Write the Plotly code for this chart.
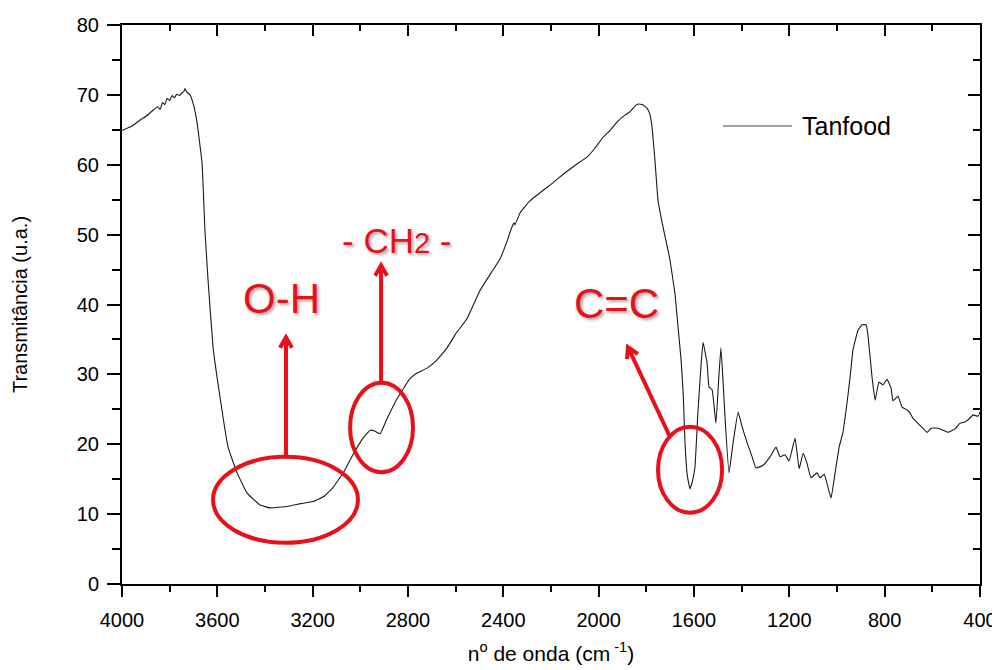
import math
import plotly.graph_objects as go

# --- data ---
wavenumber = [4000, 3960, 3924, 3900, 3870, 3850, 3840, 3830, 3820, 3811, 3800, 3790, 3780, 3770, 3760,
              3748, 3740, 3736, 3728, 3715, 3700, 3685, 3664, 3652, 3639, 3618, 3589, 3555, 3517, 3475,
              3421, 3379, 3308, 3250, 3199, 3150, 3115, 3070, 3031, 2990, 2959, 2940, 2917, 2890, 2846,
              2792, 2762, 2720, 2680, 2636, 2600, 2552, 2498, 2450, 2414, 2385, 2364, 2355, 2351, 2330,
              2290, 2246, 2200, 2150, 2100, 2049, 2015, 1982, 1950, 1923, 1890, 1868, 1845, 1835, 1815,
              1797, 1785, 1776, 1764, 1751, 1730, 1701, 1680, 1667, 1654, 1645, 1638, 1628, 1617, 1606,
              1596, 1583, 1570, 1562, 1545, 1537, 1524, 1508, 1497, 1487, 1478, 1470, 1453, 1436, 1415,
              1398, 1377, 1356, 1340, 1310, 1281, 1256, 1239, 1218, 1201, 1176, 1159, 1142, 1126, 1109,
              1084, 1071, 1054, 1042, 1025, 1008, 991, 975, 958, 945, 933, 912, 895, 878, 870,
              853, 840, 824, 807, 790, 773, 765, 744, 727, 706, 694, 681, 652, 622, 605,
              576, 555, 534, 505, 484, 463, 450, 429, 408, 400]
transmittance = [64.9, 65.5, 66.4, 66.9, 67.8, 68.3, 67.9, 68.9, 68.6, 69.5, 69.2, 69.9, 69.6, 70.1, 69.9,
                 70.3, 70.5, 70.9, 70.4, 70.0, 68.6, 66.0, 60.2, 50.6, 43.5, 33.9, 26.8, 19.6, 15.9, 13.0,
                 11.3, 10.9, 11.1, 11.5, 11.8, 12.6, 13.8, 16.0, 18.5, 20.8, 22.0, 21.9, 21.5, 23.5, 26.5,
                 29.4, 30.2, 30.9, 32.0, 33.8, 35.8, 38.0, 42.0, 44.6, 46.5, 49.0, 51.1, 51.7, 51.4, 53.1,
                 54.8, 56.0, 57.2, 58.6, 59.9, 61.1, 62.4, 63.9, 65.0, 66.1, 67.1, 67.6, 68.5, 68.7, 68.6,
                 68.1, 67.2, 65.4, 60.7, 54.9, 51.1, 46.4, 41.6, 36.8, 32.0, 27.0, 20.4, 15.5, 13.6, 14.8,
                 16.7, 24.9, 31.5, 34.6, 31.6, 28.2, 27.8, 23.0, 29.0, 33.8, 29.0, 23.9, 15.9, 20.2, 24.6,
                 22.5, 20.2, 18.2, 16.6, 17.0, 18.2, 19.6, 18.2, 18.5, 17.6, 20.9, 16.5, 18.7, 17.3, 15.2,
                 15.9, 15.2, 15.7, 14.4, 12.3, 15.9, 19.6, 21.7, 25.9, 29.6, 33.5, 36.3, 37.1, 37.1, 35.6,
                 29.6, 26.3, 28.9, 28.5, 29.3, 28.0, 26.2, 26.9, 25.3, 24.9, 24.5, 23.7, 22.7, 21.7, 22.3,
                 22.3, 22.0, 21.7, 22.2, 23.0, 23.2, 23.5, 24.2, 24.0, 24.6]

x_ticks = [4000, 3600, 3200, 2800, 2400, 2000, 1600, 1200, 800, 400]
y_ticks = [0, 10, 20, 30, 40, 50, 60, 70, 80]

series_name = "Tanfood"
x_title = "n<sup>o</sup> de onda (cm<sup> -1</sup>)"
y_title = "Transmitância (u.a.)"

# band annotations: label, label position, ellipse box, arrow (tail -> tip)
bands = [
    dict(label="O-H", lx=3329, ly=40.9, ex=(3618, 3010), ey=(5.9, 18.2), arrow=((3312, 18.2), (3312, 35.3)), size=42),
    dict(label="- CH<span style='font-size:29px'>2</span> -", lx=2850, ly=49.2, ex=(3043, 2779), ey=(16.0, 28.8),
         arrow=((2913, 28.8), (2913, 45.6)), size=35),
    dict(label="C=C", lx=1927, ly=40.2, ex=(1751, 1482), ey=(10.2, 22.5), arrow=((1700, 21.0), (1877, 33.9)), size=42),
]

RED = "#e8111a"
FONT = "Liberation Sans, Arial, sans-serif"
LINE_COLOR = "#1a1a1a"

# plot geometry (pixels); the page body adds an 8px offset, so the figure is 8px smaller
OFF = 8
W, H = 1000 - OFF, 670 - OFF
ML, MR, MT, MB = 122 - OFF, 20, 25 - OFF, 86
PW, PH = W - ML - MR, H - MT - MB
XR = [4000, 400]
YR = [0, 80]
REF_L, REF_B = 122, 584  # reference plot-area left / bottom in page pixels


def to_px(xv, yv):
    return (xv - XR[0]) / (XR[1] - XR[0]) * PW, (yv - YR[0]) / (YR[1] - YR[0]) * PH


def to_data(px, py):
    return XR[0] + px / PW * (XR[1] - XR[0]), YR[0] + py / PH * (YR[1] - YR[0])


fig = go.Figure()
fig.add_trace(go.Scatter(x=wavenumber, y=transmittance, mode="lines", name=series_name,
                         line=dict(color=LINE_COLOR, width=1.1, shape="spline", smoothing=0.3),
                         showlegend=False))
# empty trace for the mirrored (top/right) axes with inward ticks
fig.add_trace(go.Scatter(x=[], y=[], xaxis="x2", yaxis="y2", showlegend=False, hoverinfo="skip"))

axis_common = dict(showline=True, linecolor="black", linewidth=2, showgrid=False, zeroline=False,
                   automargin=False)

fig.update_layout(
    width=W, height=H,
    margin=dict(l=ML, r=MR, t=MT, b=MB),
    paper_bgcolor="white", plot_bgcolor="white",
    font=dict(family=FONT, color="black"),
    xaxis=dict(range=XR, tickvals=x_ticks, ticks="outside", ticklen=11, tickwidth=2, tickcolor="black",
               minor=dict(dtick=200, tick0=0, ticks="outside", ticklen=6, tickwidth=2, tickcolor="black"),
               tickfont=dict(size=20, family=FONT), ticklabelstandoff=6,
               title=dict(text=x_title, font=dict(size=21, family=FONT), standoff=16), **axis_common),
    yaxis=dict(range=YR, tickvals=y_ticks, ticks="outside", ticklen=13, tickwidth=2, tickcolor="black",
               minor=dict(dtick=5, tick0=0, ticks="outside", ticklen=8, tickwidth=2, tickcolor="black"),
               tickfont=dict(size=20, family=FONT), ticklabelstandoff=4,
               title=dict(text=y_title, font=dict(size=20, family=FONT), standoff=44), **axis_common),
    xaxis2=dict(range=XR, overlaying="x", side="top", anchor="y2", tickvals=x_ticks, ticks="inside",
                ticklen=11, tickwidth=2, tickcolor="black", showticklabels=False,
                minor=dict(dtick=200, tick0=0, ticks="inside", ticklen=6, tickwidth=2, tickcolor="black"),
                **axis_common),
    yaxis2=dict(range=YR, overlaying="y", side="right", anchor="x2", tickvals=y_ticks, ticks="inside",
                ticklen=12, tickwidth=2, tickcolor="black", showticklabels=False,
                minor=dict(dtick=5, tick0=0, ticks="inside", ticklen=7, tickwidth=2, tickcolor="black"),
                **axis_common),
    showlegend=False,
)

# legend (drawn as a line sample + label inside the plot)
leg_y = (REF_B - 126) / PH
fig.add_shape(type="line", xref="paper", yref="paper", x0=(723 - REF_L) / PW, x1=(792 - REF_L) / PW,
              y0=leg_y, y1=leg_y, line=dict(color="#444", width=1.2))
fig.add_annotation(text=series_name, xref="paper", yref="paper", x=(800 - REF_L) / PW, y=leg_y,
                   xanchor="left", yanchor="middle", showarrow=False,
                   font=dict(size=25, family=FONT, color="black"))

shadow = "2px 2px 3px rgba(0,0,0,0.35)"
HEAD = 12  # arrowhead side length in px
for b in bands:
    fig.add_shape(type="circle", xref="x", yref="y", x0=b["ex"][0], x1=b["ex"][1], y0=b["ey"][0], y1=b["ey"][1],
                  line=dict(color=RED, width=4))
    (tx, ty), (hx, hy) = b["arrow"]
    p_t = to_px(tx, ty)
    p_h = to_px(hx, hy)
    dx, dy = p_h[0] - p_t[0], p_h[1] - p_t[1]
    n = (dx ** 2 + dy ** 2) ** 0.5
    ux, uy = dx / n, dy / n
    pts = []
    for ang in (math.radians(150), math.radians(-150)):
        cx = ux * math.cos(ang) - uy * math.sin(ang)
        cy = ux * math.sin(ang) + uy * math.cos(ang)
        pts.append(to_data(p_h[0] + cx * HEAD, p_h[1] + cy * HEAD))
    path = f"M {tx},{ty} L {hx},{hy} M {pts[0][0]},{pts[0][1]} L {hx},{hy} L {pts[1][0]},{pts[1][1]}"
    fig.add_shape(type="path", xref="x", yref="y", path=path, line=dict(color=RED, width=4))
    fig.add_annotation(x=b["lx"], y=b["ly"], xref="x", yref="y", text=b["label"], showarrow=False,
                       font=dict(size=b["size"], family=FONT, color=RED, shadow=shadow))

fig.write_html("out.html")
